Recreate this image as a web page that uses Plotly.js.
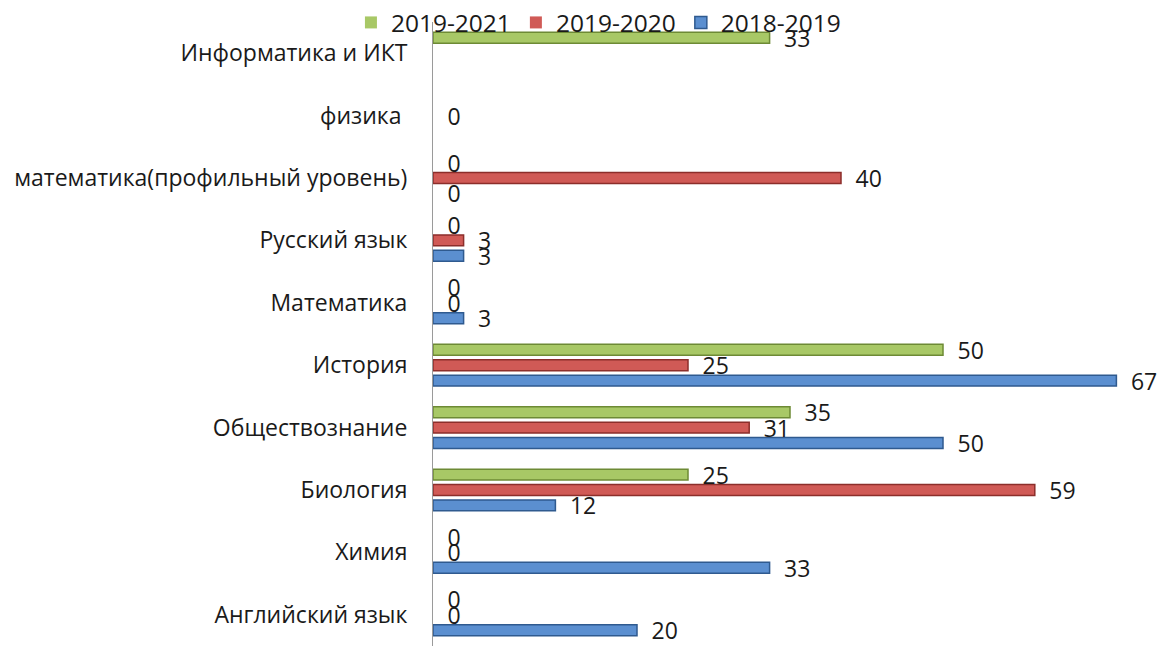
<!DOCTYPE html>
<html>
<head>
<meta charset="utf-8">
<script src="https://cdn.plot.ly/plotly-3.0.1.min.js"></script>
<style>html,body{margin:0;padding:0;background:#fff;}#chart{width:1162px;height:646px;}</style>
</head>
<body>
<div id="chart"></div>
<script>
const categories = ["Английский язык","Химия","Биология","Обществознание","История","Математика","Русский язык","математика(профильный уровень)","физика ","Информатика и ИКТ"];
const series2018_2019 = [20, 33, 12, 50, 67, 3, 3, 0, null, null];
const series2019_2020 = [0, 0, 59, 31, 25, 0, 3, 40, 0, null];
const series2019_2021 = [0, 0, 25, 35, 50, 0, 0, 0, null, 33];
const seriesNames = ["2018-2019","2019-2020","2019-2021"];

const fontFamily = "'Open Sans', 'Noto Sans', sans-serif";
const fs = 23;
function mk(name, vals, fill, line){
  return {
    type: 'bar', orientation: 'h', name: name,
    y: categories, x: vals,
    text: vals.map(v => v === null ? '' : '\u2002' + String(v)),
    textposition: 'outside', cliponaxis: false, constraintext: 'none',
    textfont: {family: fontFamily, size: fs, color: '#1a1a1a'},
    marker: {color: fill, line: {color: line, width: vals.map(v => v ? 1.5 : 0)}},
    hoverinfo: 'x+name'
  };
}
const data = [
  mk(seriesNames[0], series2018_2019, '#5b8fd0', '#2f5a8f'),
  mk(seriesNames[1], series2019_2020, '#d05a56', '#8c2e2b'),
  mk(seriesNames[2], series2019_2021, '#a8c866', '#6d8a35')
];
const layout = {
  width: 1162, height: 646,
  margin: {l: 433, r: 15, t: 22, b: 0, autoexpand: false},
  paper_bgcolor: '#fff', plot_bgcolor: '#fff',
  barmode: 'group', bargap: 0.26, bargroupgap: 0.29,
  font: {family: fontFamily, size: fs, color: '#1a1a1a'},
  showlegend: true,
  legend: {orientation: 'h', traceorder: 'reversed', x: 0.515, xref: 'container', xanchor: 'center', y: 1.0, yanchor: 'top', yref: 'container',
           font: {family: fontFamily, size: 24.5, color: '#1a1a1a'}, itemwidth: 30, bgcolor: 'rgba(0,0,0,0)'},
  xaxis: {range: [0, 70], showticklabels: false, showgrid: false, zeroline: false, showline: false, ticks: ''},
  yaxis: {type: 'category', categoryorder: 'array', categoryarray: categories, showgrid: false, zeroline: false,
          showline: true, linecolor: '#9a9a9a', linewidth: 1, ticks: '', ticklabelstandoff: 20,
          tickfont: {family: fontFamily, size: fs, color: '#1a1a1a'}}
};
Plotly.newPlot('chart', data, layout, {displayModeBar: false, staticPlot: true});
</script>
</body>
</html>
